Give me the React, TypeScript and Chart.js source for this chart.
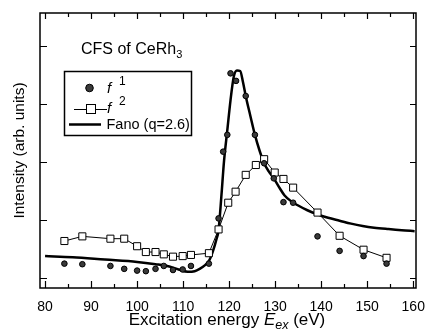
import React, { useEffect, useRef } from "react";
import { Chart, registerables } from "chart.js";

Chart.register(...registerables);

// ---- data ----
const xTicks = [80, 90, 100, 110, 120, 130, 140, 150, 160];
const xMinorTicks = [85, 95, 105, 115, 125, 135, 145, 155];
const yTicks = [0, 1, 2, 3, 4];

const f1X = [84.2, 88.1, 94.2, 97.2, 100.0, 101.9, 104.0, 105.8, 107.8, 109.9, 111.7, 115.6, 117.7, 118.7, 119.6, 120.3, 121.5, 123.6, 125.6, 127.6, 129.7, 131.8, 133.9, 139.2, 144.0, 149.2, 154.2];
const f1Y = [0.25, 0.24, 0.21, 0.16, 0.13, 0.12, 0.16, 0.21, 0.14, 0.15, 0.21, 0.25, 1.03, 2.18, 2.47, 3.53, 3.40, 3.14, 2.47, 1.98, 1.72, 1.31, 1.30, 0.72, 0.47, 0.38, 0.25];

const f2X = [84.2, 88.1, 94.2, 97.2, 100.0, 101.9, 104.0, 105.8, 107.8, 109.9, 111.7, 115.6, 117.7, 119.8, 121.4, 123.6, 125.8, 127.6, 129.9, 131.8, 133.9, 139.2, 144.0, 149.2, 154.2];
const f2Y = [0.64, 0.72, 0.68, 0.68, 0.55, 0.45, 0.45, 0.41, 0.37, 0.38, 0.40, 0.43, 0.84, 1.30, 1.49, 1.78, 1.95, 2.05, 1.82, 1.71, 1.56, 1.13, 0.73, 0.49, 0.35];

const fanoX = [80, 86, 93, 100, 104, 107, 109, 111, 112.5, 113.6, 114.7, 115.7, 116.5, 117.2, 117.7, 118.3, 118.9, 119.6, 120.3, 121.0, 121.7, 122.4, 123.0, 123.6, 124.6, 125.6, 126.6, 127.6, 128.6, 129.7, 131.0, 132.0, 133.4, 134.8, 137.0, 139.2, 141.5, 144.0, 146.5, 149.0, 151.5, 154.6, 157.5, 160.3];
const fanoY = [0.38, 0.36, 0.32, 0.28, 0.24, 0.20, 0.15, 0.11, 0.12, 0.16, 0.22, 0.31, 0.47, 0.66, 0.83, 1.40, 2.03, 2.55, 3.07, 3.47, 3.58, 3.57, 3.38, 3.14, 2.80, 2.47, 2.20, 1.98, 1.84, 1.72, 1.55, 1.43, 1.33, 1.26, 1.17, 1.10, 1.04, 0.99, 0.94, 0.90, 0.87, 0.845, 0.825, 0.81];

const FONT = '"Liberation Sans", Arial, Helvetica, sans-serif';

const decorPlugin = {
  id: "decor",
  afterDraw(chart: any) {
    const ctx = chart.ctx as CanvasRenderingContext2D;
    const { left, right, top, bottom } = chart.chartArea;
    const xs = chart.scales.x;
    const ys = chart.scales.y;
    ctx.save();
    ctx.strokeStyle = "#000";
    ctx.fillStyle = "#000";

    // frame
    ctx.lineWidth = 1.5;
    ctx.strokeRect(left, top, right - left, bottom - top);

    // inward ticks
    ctx.lineWidth = 1.2;
    ctx.beginPath();
    xTicks.forEach((v) => {
      const px = Math.round(xs.getPixelForValue(v)) + 0.5;
      ctx.moveTo(px, bottom); ctx.lineTo(px, bottom - 7);
      ctx.moveTo(px, top); ctx.lineTo(px, top + 6);
    });
    xMinorTicks.forEach((v) => {
      const px = Math.round(xs.getPixelForValue(v)) + 0.5;
      ctx.moveTo(px, bottom); ctx.lineTo(px, bottom - 4);
      ctx.moveTo(px, top); ctx.lineTo(px, top + 4);
    });
    yTicks.forEach((v) => {
      const py = Math.round(ys.getPixelForValue(v)) + 0.5;
      ctx.moveTo(left, py); ctx.lineTo(left + 7, py);
      ctx.moveTo(right, py); ctx.lineTo(right - 6, py);
    });
    ctx.stroke();

    // x-axis title with subscript
    const parts: [string, string, number][] = [
      ["Excitation energy ", `17px ${FONT}`, 0],
      ["E", `italic 17px ${FONT}`, 0],
      ["ex", `italic 12.5px ${FONT}`, 4],
      [" (eV)", `17px ${FONT}`, 0],
    ];
    let total = 0;
    parts.forEach(([t, f]) => { ctx.font = f; total += ctx.measureText(t).width; });
    let cx = (left + right) / 2 - total / 2 - 1;
    const base = 325;
    ctx.textBaseline = "alphabetic";
    ctx.textAlign = "left";
    parts.forEach(([t, f, dy]) => {
      ctx.font = f;
      ctx.fillText(t, cx, base + dy);
      cx += ctx.measureText(t).width;
    });

    // annotation "CFS of CeRh3"
    ctx.font = `16px ${FONT}`;
    ctx.fillText("CFS of CeRh", 81, 54);
    const w1 = ctx.measureText("CFS of CeRh").width;
    ctx.font = `11px ${FONT}`;
    ctx.fillText("3", 81 + w1, 58);

    // legend box
    ctx.lineWidth = 1.5;
    ctx.strokeRect(64.5, 71.5, 127, 64);

    // row 1: f1 circle
    ctx.beginPath();
    ctx.arc(89.5, 88, 3.8, 0, Math.PI * 2);
    ctx.fillStyle = "#3a3a3a";
    ctx.fill();
    ctx.lineWidth = 1;
    ctx.strokeStyle = "#000";
    ctx.stroke();
    ctx.fillStyle = "#000";
    ctx.font = `italic 15px ${FONT}`;
    ctx.fillText("f", 107, 93);
    ctx.font = `12px ${FONT}`;
    ctx.fillText("1", 119, 85);

    // row 2: f2 line + square
    ctx.lineWidth = 1;
    ctx.beginPath();
    ctx.moveTo(74, 109.5); ctx.lineTo(107, 109.5);
    ctx.stroke();
    ctx.fillStyle = "#fff";
    ctx.fillRect(86.5, 104.5, 9, 9);
    ctx.strokeRect(86.5, 104.5, 9, 9);
    ctx.fillStyle = "#000";
    ctx.font = `italic 15px ${FONT}`;
    ctx.fillText("f", 107, 113);
    ctx.font = `12px ${FONT}`;
    ctx.fillText("2", 119, 105);

    // row 3: Fano line
    ctx.lineWidth = 2.5;
    ctx.beginPath();
    ctx.moveTo(69, 124.5); ctx.lineTo(101, 124.5);
    ctx.stroke();
    ctx.font = `14.5px ${FONT}`;
    ctx.fillText("Fano (q=2.6)", 106.5, 129);

    ctx.restore();
  },
};

export default function App() {
  const ref = useRef<HTMLCanvasElement | null>(null);
  useEffect(() => {
    if (!ref.current) return;
    const chart = new Chart(ref.current, {
      type: "scatter",
      data: {
        datasets: [
          {
            label: "f1",
            data: f1X.map((x, i) => ({ x, y: f1Y[i] })),
            showLine: false,
            pointStyle: "circle",
            pointRadius: 2.8,
            pointBackgroundColor: "#3a3a3a",
            pointBorderColor: "#000",
            pointBorderWidth: 1,
            order: 1,
          },
          {
            label: "f2",
            data: f2X.map((x, i) => ({ x, y: f2Y[i] })),
            showLine: true,
            borderColor: "#000",
            borderWidth: 1,
            pointStyle: "rect",
            pointRadius: 5,
            pointBackgroundColor: "#fff",
            pointBorderColor: "#000",
            pointBorderWidth: 1,
            order: 2,
          },
          {
            label: "Fano (q=2.6)",
            data: fanoX.map((x, i) => ({ x, y: fanoY[i] })),
            showLine: true,
            borderColor: "#000",
            borderWidth: 2.5,
            pointRadius: 0,
            cubicInterpolationMode: "monotone",
            order: 3,
          },
        ] as any,
      },
      options: {
        animation: false,
        responsive: false,
        devicePixelRatio: 1,
        layout: { padding: { top: 13, right: 11, left: 0, bottom: 0 } },
        plugins: { legend: { display: false }, tooltip: { enabled: false } },
        scales: {
          x: {
            type: "linear",
            min: 78.9,
            max: 160.6,
            grid: { display: false, drawTicks: false },
            border: { display: false },
            afterBuildTicks: (s: any) => { s.ticks = xTicks.map((v) => ({ value: v })); },
            afterFit: (s: any) => { s.height = 43; },
            ticks: {
              color: "#000",
              font: { size: 14, family: FONT },
              padding: 11,
              maxRotation: 0,
              autoSkip: false,
            },
          },
          y: {
            type: "linear",
            min: -0.17,
            max: 4.57,
            grid: { display: false, drawTicks: false },
            border: { display: false },
            afterBuildTicks: (s: any) => { s.ticks = yTicks.map((v) => ({ value: v })); },
            afterFit: (s: any) => { s.width = 40; },
            ticks: { display: false },
            title: {
              display: true,
              text: "Intensity (arb. units)",
              color: "#000",
              font: { size: 15.5, family: FONT },
              padding: { top: 10, bottom: 0 },
            },
          },
        },
      } as any,
      plugins: [decorPlugin],
    });
    return () => chart.destroy();
  }, []);
  return (
    <div style={{ position: "fixed", left: 0, top: 0, width: 436, height: 331, background: "#fff" }}>
      <canvas ref={ref} width={436} height={331} style={{ display: "block" }} />
    </div>
  );
}
